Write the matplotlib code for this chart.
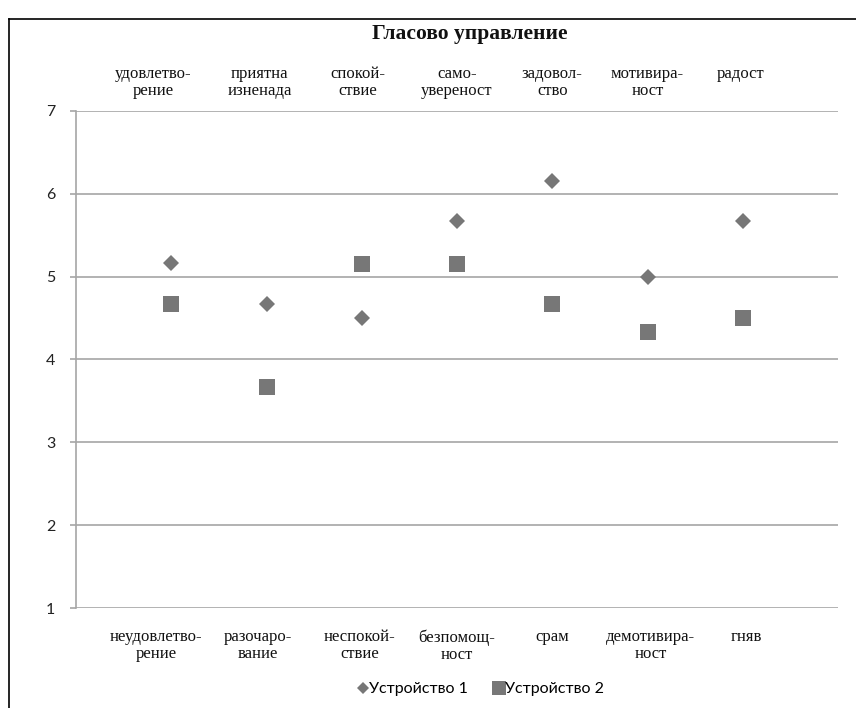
import matplotlib
matplotlib.use("Agg")
import matplotlib.pyplot as plt
from matplotlib.transforms import blended_transform_factory
from matplotlib.lines import Line2D

# Positive emotions (top) and their negative counterparts (bottom)
top_labels = ["удовлетво-\nрение", "приятна\nизненада", "спокой-\nствие", "само-\nувереност",
              "задовол-\nство", "мотивира-\nност", "радост"]
bottom_labels = ["неудовлетво-\nрение", "разочаро-\nвание", "неспокой-\nствие", "безпомощ-\nност",
                 "срам", "демотивира-\nност", "гняв"]
device1 = [5.17, 4.67, 4.50, 5.67, 6.15, 5.00, 5.67]
device2 = [4.67, 3.67, 5.15, 5.15, 4.67, 4.33, 4.50]
series_names = ["Устройство 1", "Устройство 2"]
title = "Гласово управление"
y_ticks = [1, 2, 3, 4, 5, 6, 7]

# small horizontal nudges of the label text boxes (in category units)
top_shift = [-0.19, -0.07, -0.04, 0.0, 0.0, 0.0, -0.02]
bottom_shift = [-0.16, -0.09, -0.02, 0.0, 0.0, 0.03, 0.04]

W, H = 856, 708
fig = plt.figure(figsize=(W / 100, H / 100), dpi=100)
ax = fig.add_axes([76 / W, 1 - 608 / H, (838 - 76) / W, (608 - 111) / H])

serif = ["Liberation Serif", "DejaVu Serif"]
sans = ["Lato", "DejaVu Sans"]
mark_color = "#777777"
grid_color = "#a6a6a6"

x = list(range(1, len(device1) + 1))
ax.plot(x, device1, linestyle="none", marker="D", markersize=8.5, color=mark_color,
        markeredgewidth=0, zorder=3)
ax.plot(x, device2, linestyle="none", marker="s", markersize=11, color=mark_color,
        markeredgewidth=0, zorder=3)

ax.set_xlim(0, len(x) + 1)
ax.set_ylim(1, 7)
ax.set_yticks(y_ticks)
ax.set_xticks([])
for t in y_ticks:
    ax.axhline(t, color=grid_color, linewidth=1.2, zorder=1)
for side in ["top", "right", "bottom"]:
    ax.spines[side].set_visible(False)
ax.spines["left"].set_color(grid_color)
ax.spines["left"].set_linewidth(1.2)
ax.tick_params(axis="y", length=4, width=1.2, color=grid_color, pad=11,
               labelsize=11.5, labelcolor="#222222")
for lbl in ax.get_yticklabels():
    lbl.set_family(sans)

tr = blended_transform_factory(ax.transData, fig.transFigure)
for xi, lab, dx in zip(x, top_labels, top_shift):
    ax.text(xi + dx, 1 - 66 / H, lab, transform=tr, ha="center", va="top",
            multialignment="center", fontsize=12, family=serif, color="#111111",
            linespacing=1.05)
for xi, lab, dx in zip(x, bottom_labels, bottom_shift):
    ax.text(xi + dx, 1 - 629 / H, lab, transform=tr, ha="center", va="top",
            multialignment="center", fontsize=12, family=serif, color="#111111",
            linespacing=1.12)

fig.text(470 / W, 1 - 34 / H, title, ha="center", va="center", fontsize=15.5,
         fontweight="bold", family=serif, color="#111111")

handles = [Line2D([], [], linestyle="none", marker="D", markersize=6.5, color=mark_color,
                  markeredgewidth=0),
           Line2D([], [], linestyle="none", marker="s", markersize=9.5, color=mark_color,
                  markeredgewidth=0)]
fig.legend(handles, series_names, loc="center", bbox_to_anchor=(481 / W, 1 - 689 / H),
           ncol=2, frameon=False, prop={"family": sans, "size": 11.5},
           handlelength=0.6, handletextpad=0.1, columnspacing=1.6)

# Chart frame
fig.add_artist(Line2D([9 / W, 9 / W], [0, 1 - 19 / H], transform=fig.transFigure,
                      color="black", linewidth=1.2))
fig.add_artist(Line2D([9 / W, 1], [1 - 19 / H, 1 - 19 / H], transform=fig.transFigure,
                      color="black", linewidth=1.2))

fig.savefig("out.png", dpi=100)
